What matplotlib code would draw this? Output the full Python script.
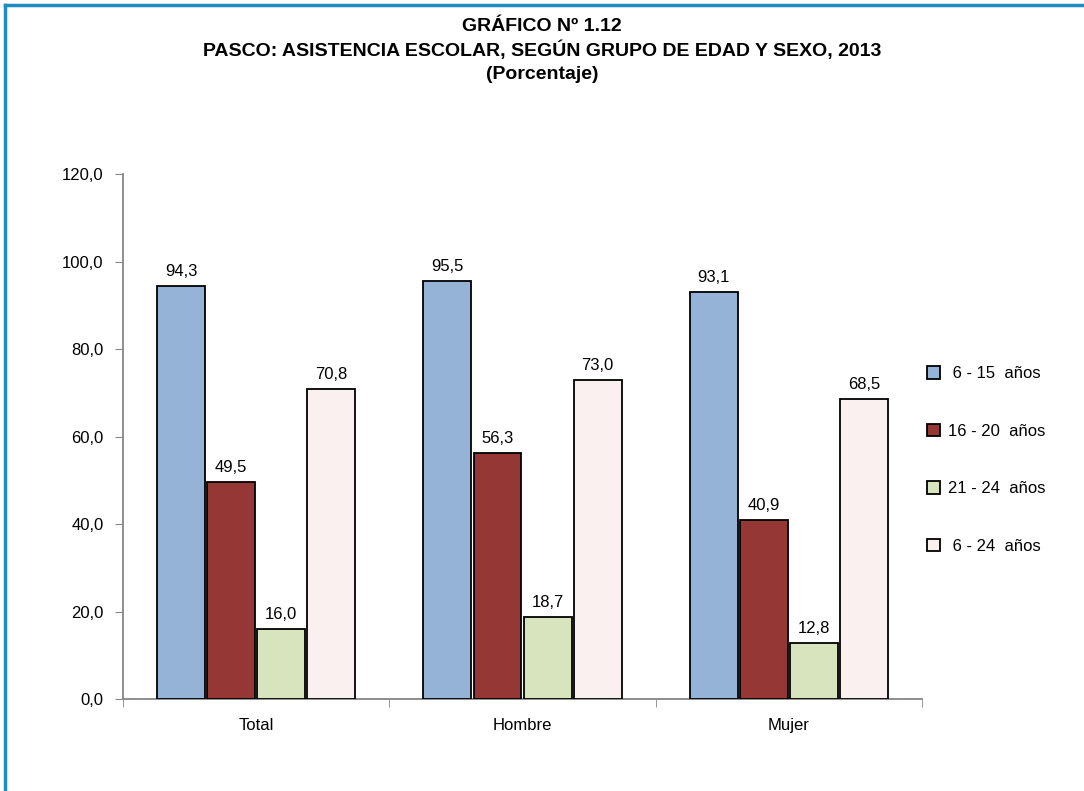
import numpy as np
from matplotlib import pyplot as plt
from matplotlib.lines import Line2D

plt.rcParams['font.family'] = ['Liberation Sans Narrow', 'Liberation Sans', 'DejaVu Sans']

categories = ['Total', 'Hombre', 'Mujer']
series_names = [' 6 - 15  años', '16 - 20  años', '21 - 24  años', ' 6 - 24  años']
values_6_15 = [94.3, 95.5, 93.1]
values_16_20 = [49.5, 56.3, 40.9]
values_21_24 = [16.0, 18.7, 12.8]
values_6_24 = [70.8, 73.0, 68.5]
colors = ['#95B3D7', '#953735', '#D7E4BD', '#FBF0F0']
yticks = [0, 20, 40, 60, 80, 100, 120]

series = [values_6_15, values_16_20, values_21_24, values_6_24]

fig = plt.figure(figsize=(10.84, 7.91), dpi=100)
ax = fig.add_axes([0.1135, 0.1163, 0.7371, 0.6637])

x = np.arange(len(categories))
step = 0.188
width = 0.18
for i, vals in enumerate(series):
    pos = x + (i - 1.5) * step
    bars = ax.bar(pos, vals, width, color=colors[i], edgecolor='black', linewidth=1.3,
                  label=series_names[i], zorder=3)
    for b, v in zip(bars, vals):
        ax.text(b.get_x() + b.get_width() / 2, v + 1.6, f'{v:.1f}'.replace('.', ','),
                ha='center', va='bottom', fontsize=12)

ax.set_xlim(-0.5, 2.5)
ax.set_ylim(0, 120)
ax.set_yticks(yticks)
ax.set_yticklabels([f'{t:.1f}'.replace('.', ',') for t in yticks], fontsize=12)
ax.set_xticks(x)
ax.set_xticklabels(categories, fontsize=12)
ax.set_xticks([-0.5, 0.5, 1.5, 2.5], minor=True)
ax.tick_params(axis='x', which='major', length=0, pad=14)
ax.tick_params(axis='x', which='minor', length=6, color='#868686', direction='out')
ax.tick_params(axis='y', length=6, color='#868686', direction='out', pad=8)
for s in ['top', 'right']:
    ax.spines[s].set_visible(False)
for s in ['left', 'bottom']:
    ax.spines[s].set_color('#868686')
    ax.spines[s].set_linewidth(1.3)

leg = ax.legend(loc='center left', bbox_to_anchor=(0.998, 0.455), frameon=False,
                fontsize=12, handlelength=0.75, handleheight=0.75, handletextpad=0.5,
                labelspacing=2.55, borderaxespad=0.0)

fig.text(0.5, 0.967, 'GRÁFICO Nº 1.12', ha='center', va='center', fontsize=14, fontweight='bold')
fig.text(0.5, 0.937, 'PASCO: ASISTENCIA ESCOLAR, SEGÚN GRUPO DE EDAD Y SEXO, 2013',
         ha='center', va='center', fontsize=14, fontweight='bold')
fig.text(0.5, 0.906, '(Porcentaje)', ha='center', va='center', fontsize=14, fontweight='bold')

# blue frame (top and left edges)
fig.add_artist(Line2D([0.005, 0.005], [0, 0.994], transform=fig.transFigure,
                      color='#1E8BC3', linewidth=2.5))
fig.add_artist(Line2D([0.005, 1.0], [0.994, 0.994], transform=fig.transFigure,
                      color='#1E8BC3', linewidth=2.5))

plt.savefig('out.png', dpi=100)
